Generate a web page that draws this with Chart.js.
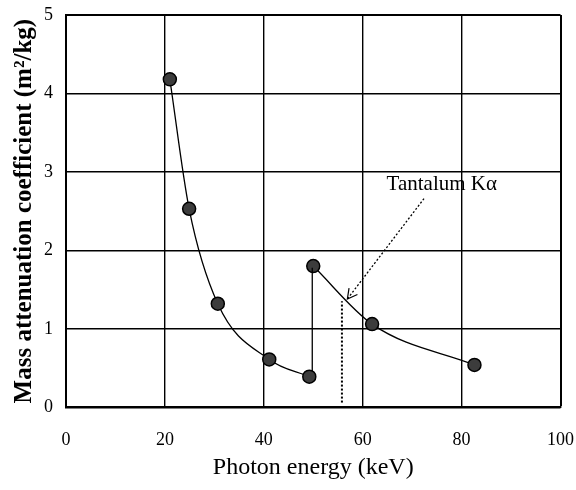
<!DOCTYPE html>
<html>
<head>
<meta charset="utf-8">
<script src="https://cdn.jsdelivr.net/npm/chart.js@4"></script>
<style>
  html, body { margin: 0; padding: 0; background: #fff; }
  #wrap { width: 576px; height: 490px; }
</style>
</head>
<body>
<div id="wrap"><canvas id="attenChart"></canvas></div>
<script>
// values
var lowEnergy = [21.0, 24.9, 30.7, 41.1, 49.2];
var lowCoef = [4.18, 2.53, 1.32, 0.61, 0.39];
var highEnergy = [50.0, 61.9, 82.6];
var highCoef = [1.80, 1.06, 0.54];
var edgeEnergy = [49.8, 49.8];
var edgeCoef = [0.42, 1.78];
var kaLineEnergy = [55.8, 55.8];
var kaLineCoef = [0.06, 1.35];
var arrowEnergy = [72.4, 56.9];
var arrowCoef = [2.66, 1.38];
var labelPos = [76.0, 2.84];
var labelText = 'Tantalum K\u03b1';

var serif = '"Liberation Serif", "Times New Roman", serif';

function pts(xs, ys) {
    return xs.map(function (x, i) { return { x: x, y: ys[i] }; });
}

// label + open arrow head for the Ka annotation
var kaNote = {
    id: 'kaNote',
    afterDatasetsDraw: function (chart) {
        var c = chart.ctx, sx = chart.scales.x, sy = chart.scales.y;
        c.save();
        c.fillStyle = '#000';
        c.font = '21px ' + serif;
        c.textAlign = 'center';
        c.textBaseline = 'middle';
        c.fillText(labelText, sx.getPixelForValue(labelPos[0]), sy.getPixelForValue(labelPos[1]));

        var x0 = sx.getPixelForValue(arrowEnergy[0]), y0 = sy.getPixelForValue(arrowCoef[0]);
        var x1 = sx.getPixelForValue(arrowEnergy[1]), y1 = sy.getPixelForValue(arrowCoef[1]);
        var ang = Math.atan2(y1 - y0, x1 - x0);
        c.strokeStyle = '#000';
        c.lineWidth = 1.2;
        c.beginPath();
        c.moveTo(x1 - 11 * Math.cos(ang - 0.5), y1 - 11 * Math.sin(ang - 0.5));
        c.lineTo(x1, y1);
        c.lineTo(x1 - 11 * Math.cos(ang + 0.5), y1 - 11 * Math.sin(ang + 0.5));
        c.stroke();
        c.restore();
    }
};

var ctx = document.getElementById('attenChart').getContext('2d');
var attenChart = new Chart(ctx, {
    type: 'scatter',
    data: {
        datasets: [{
            data: pts(lowEnergy, lowCoef),
            showLine: true,
            cubicInterpolationMode: 'monotone',
            borderColor: '#000',
            borderWidth: 1.3,
            pointRadius: 6.5,
            pointBackgroundColor: '#3c3c3c',
            pointBorderColor: '#000',
            pointBorderWidth: 1.5
        }, {
            data: pts(edgeEnergy, edgeCoef),
            showLine: true,
            borderColor: '#000',
            borderWidth: 1.3,
            pointRadius: 0
        }, {
            data: pts(highEnergy, highCoef),
            showLine: true,
            cubicInterpolationMode: 'monotone',
            borderColor: '#000',
            borderWidth: 1.3,
            pointRadius: 6.5,
            pointBackgroundColor: '#3c3c3c',
            pointBorderColor: '#000',
            pointBorderWidth: 1.5
        }, {
            data: pts(kaLineEnergy, kaLineCoef),
            showLine: true,
            borderColor: '#000',
            borderWidth: 2,
            borderDash: [2, 2],
            pointRadius: 0
        }, {
            data: pts(arrowEnergy, arrowCoef),
            showLine: true,
            borderColor: '#000',
            borderWidth: 1.3,
            borderDash: [2, 2],
            pointRadius: 0
        }]
    },
    options: {
        responsive: true,
        maintainAspectRatio: false,
        animation: false,
        layout: { padding: { left: 10, right: 0, top: 15, bottom: 4 } },
        plugins: {
            legend: { display: false },
            tooltip: { enabled: false }
        },
        scales: {
            x: {
                min: 0,
                max: 100,
                ticks: { stepSize: 20, color: '#000', padding: 2, font: { family: serif, size: 18, lineHeight: 3.44 } },
                grid: {
                    color: '#000',
                    lineWidth: function (c) { return c.tick && c.tick.value === 100 ? 2 : 1.4; },
                    drawTicks: false
                },
                border: { color: '#000', width: 2 },
                title: { display: true, text: 'Photon energy (keV)', color: '#000', padding: { top: -20, bottom: 4 }, font: { family: serif, size: 24 } }
            },
            y: {
                min: 0,
                max: 5,
                ticks: { stepSize: 1, color: '#000', padding: 13, font: { family: serif, size: 18, lineHeight: 0.2 } },
                grid: {
                    color: '#000',
                    lineWidth: function (c) { return c.tick && c.tick.value === 5 ? 2 : 1.4; },
                    drawTicks: false
                },
                border: { color: '#000', width: 2 },
                title: { display: true, text: 'Mass attenuation coefficient (m\u00b2/kg)', color: '#000', padding: { top: 0, bottom: -9 }, font: { family: serif, size: 25, weight: 'bold' } }
            }
        }
    },
    plugins: [kaNote]
});
</script>
</body>
</html>
